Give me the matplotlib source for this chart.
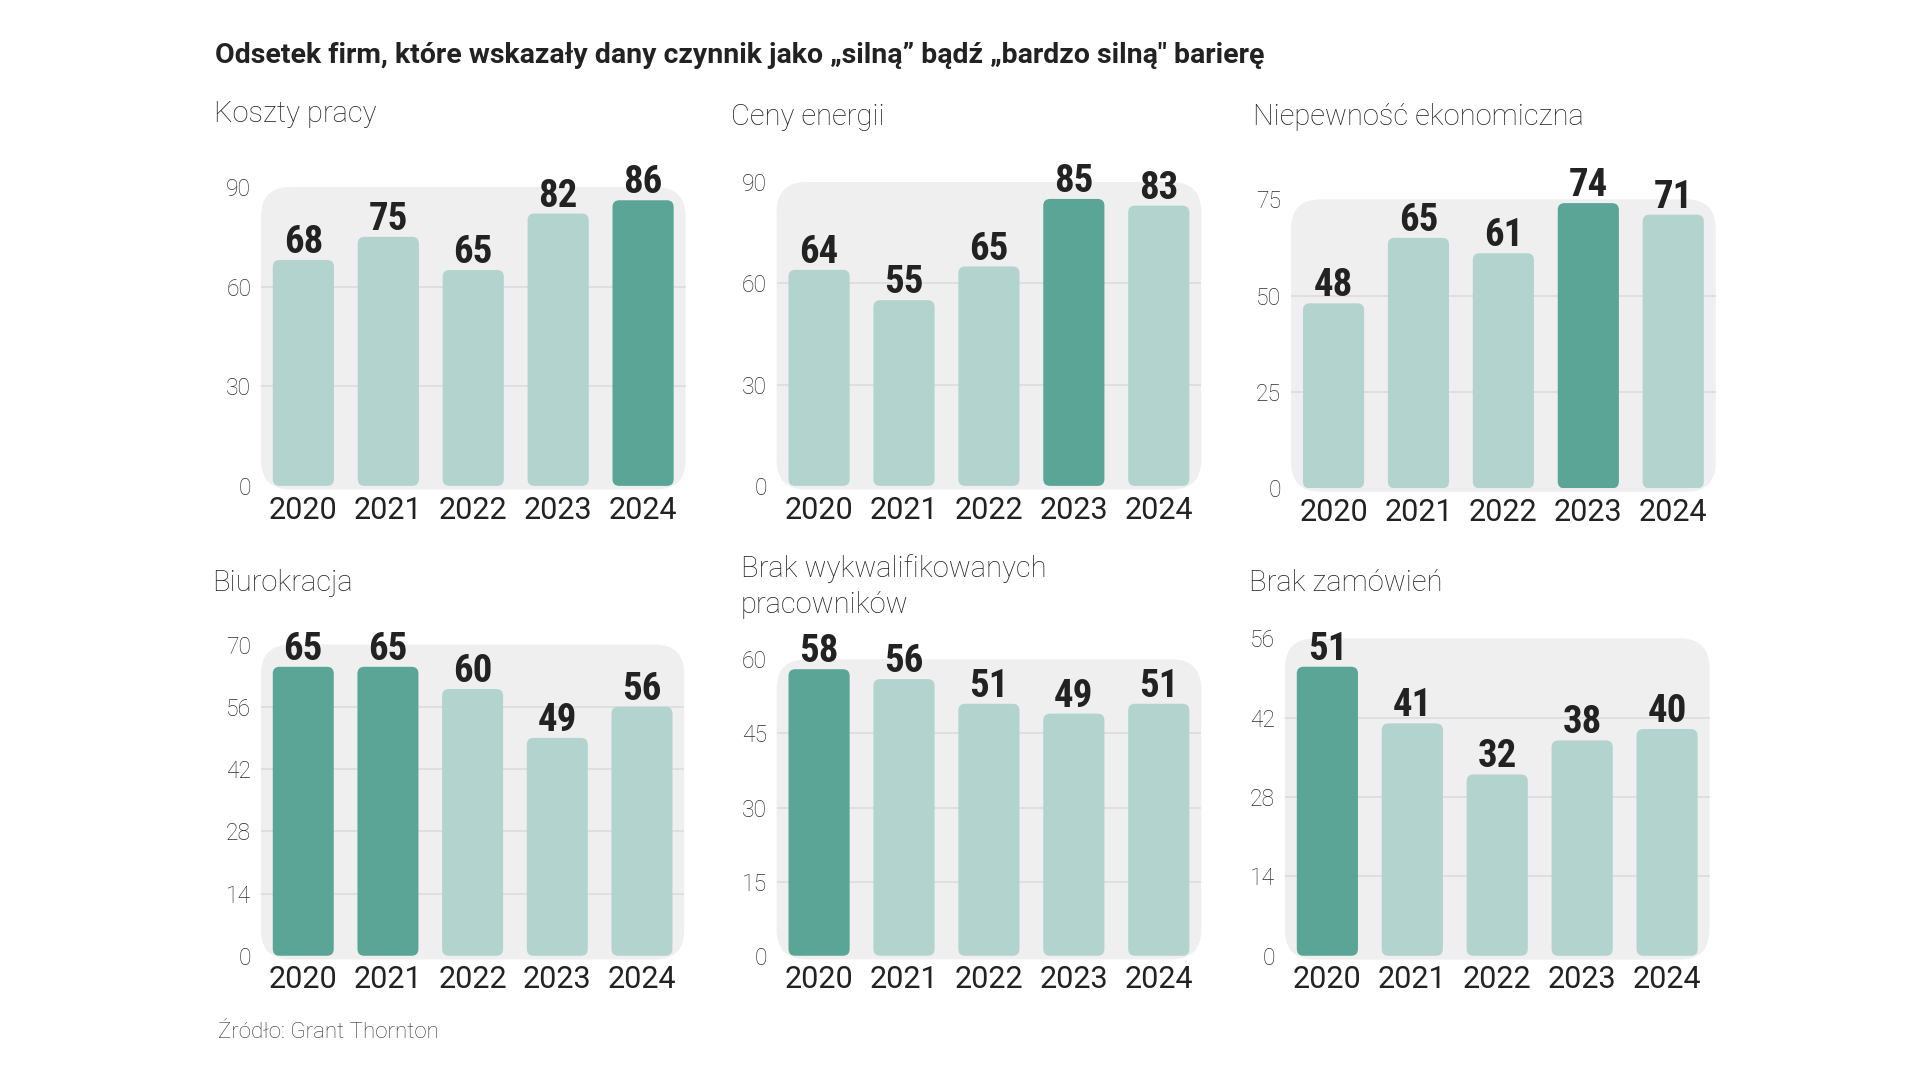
import numpy as np
import matplotlib.pyplot as plt
from matplotlib.patches import FancyBboxPatch

# dane
lata = ["2020", "2021", "2022", "2023", "2024"]
tytul = "Odsetek firm, które wskazały dany czynnik jako „silną” bądź „bardzo silną\" barierę"
zrodlo = "Źródło: Grant Thornton"

nazwy = ["Koszty pracy", "Ceny energii", "Niepewność ekonomiczna",
         "Biurokracja", "Brak wykwalifikowanych\npracowników", "Brak zamówień"]
koszty_pracy = [68, 75, 65, 82, 86]
ceny_energii = [64, 55, 65, 85, 83]
niepewnosc = [48, 65, 61, 74, 71]
biurokracja = [65, 65, 60, 49, 56]
brak_pracownikow = [58, 56, 51, 49, 51]
brak_zamowien = [51, 41, 32, 38, 40]
wartosci = [koszty_pracy, ceny_energii, niepewnosc, biurokracja, brak_pracownikow, brak_zamowien]

# wyroznione lata (ciemny kolor)
wyroznione = [[4], [3], [3], [0, 1], [0], [0]]
# podzialki osi y
podzialki = [[0, 30, 60, 90], [0, 30, 60, 90], [0, 25, 50, 75],
             [0, 14, 28, 42, 56, 70], [0, 15, 30, 45, 60], [0, 14, 28, 42, 56]]

JASNY = "#b3d3ce"
CIEMNY = "#5ba596"
TLO = "#efefef"

# pozycje w pikselach podgladu (1560x878)
W, H = 1560, 878
osie = [(212, 557, 152, 395), (631, 976, 148, 395), (1049, 1394, 162, 397),
        (212, 556, 524, 777), (631, 976, 536, 777), (1044, 1389, 519, 777)]
tytuly_poz = [(174, 93), (594, 95), (1018, 95), (172, 474), (602, 477), (1015, 474)]

fig = plt.figure(figsize=(19.2, 10.8), dpi=100)
fig.patch.set_facecolor("white")

fig.text(175 / W, 1 - 45 / H, tytul, fontsize=20.5, fontweight="bold",
         family=["Roboto", "DejaVu Sans"], color="#222222", va="center")
fig.text(177 / W, 1 - 839 / H, zrodlo, fontsize=16, fontweight="light",
         family=["Roboto", "DejaVu Sans"], color="#333333", va="center")

for i in range(6):
    l, r, t, b = osie[i]
    ax = fig.add_axes([l / W, 1 - b / H, (r - l) / W, (b - t) / H])
    ymax = podzialki[i][-1]
    ax.set_xlim(-0.5, 4.5)
    ax.set_ylim(0, ymax)
    ax.set_facecolor("none")
    for s in ax.spines.values():
        s.set_visible(False)

    # tlo z zaokraglonymi rogami
    wpx = (r - l)
    hpx = (b - t)
    bg = FancyBboxPatch((0, -0.012), 1, 1.012, boxstyle="round,pad=0,rounding_size=0.07",
                        mutation_aspect=wpx / hpx, transform=ax.transAxes,
                        facecolor=TLO, edgecolor="none", zorder=0, clip_on=False)
    ax.add_patch(bg)

    for yv in podzialki[i][1:-1]:
        ax.axhline(yv, color="#dcdcdc", lw=1.2, zorder=1)

    kolory = [CIEMNY if j in wyroznione[i] else JASNY for j in range(5)]
    bars = ax.bar(range(5), wartosci[i], width=0.72, color=kolory, zorder=2)
    asp = (ymax / hpx) / (5.0 / wpx)
    for p in bars:
        x0, y0 = p.get_xy()
        fb = FancyBboxPatch((x0, y0), p.get_width(), p.get_height(),
                            boxstyle="round,pad=0,rounding_size=0.08",
                            mutation_aspect=asp, facecolor=p.get_facecolor(),
                            edgecolor="none", zorder=2)
        p.set_visible(False)
        ax.add_patch(fb)

    for j, v in enumerate(wartosci[i]):
        ax.annotate(str(v), (j, v), xytext=(0, 5), textcoords="offset points",
                    ha="center", va="baseline", fontsize=28, fontweight="bold",
                    family=["Roboto Condensed", "Roboto", "DejaVu Sans"],
                    color="#222222", annotation_clip=False)

    ax.set_yticks(podzialki[i])
    ax.set_yticklabels([str(v) for v in podzialki[i]], fontsize=16.5,
                       fontweight="light", family=["Roboto", "DejaVu Sans"],
                       color="#2a2a2a")
    ax.set_xticks(range(5))
    ax.set_xticklabels(lata, fontsize=22, family=["Roboto", "DejaVu Sans"],
                       color="#222222")
    ax.tick_params(axis="y", length=0, pad=7)
    ax.tick_params(axis="x", length=0, pad=7)

    tx, ty = tytuly_poz[i]
    fig.text(tx / W, 1 - ty / H, nazwy[i], fontsize=21, fontweight="light",
             family=["Roboto", "DejaVu Sans"], color="#222222", va="center",
             linespacing=1.35)

fig.savefig("out.png", dpi=100)
